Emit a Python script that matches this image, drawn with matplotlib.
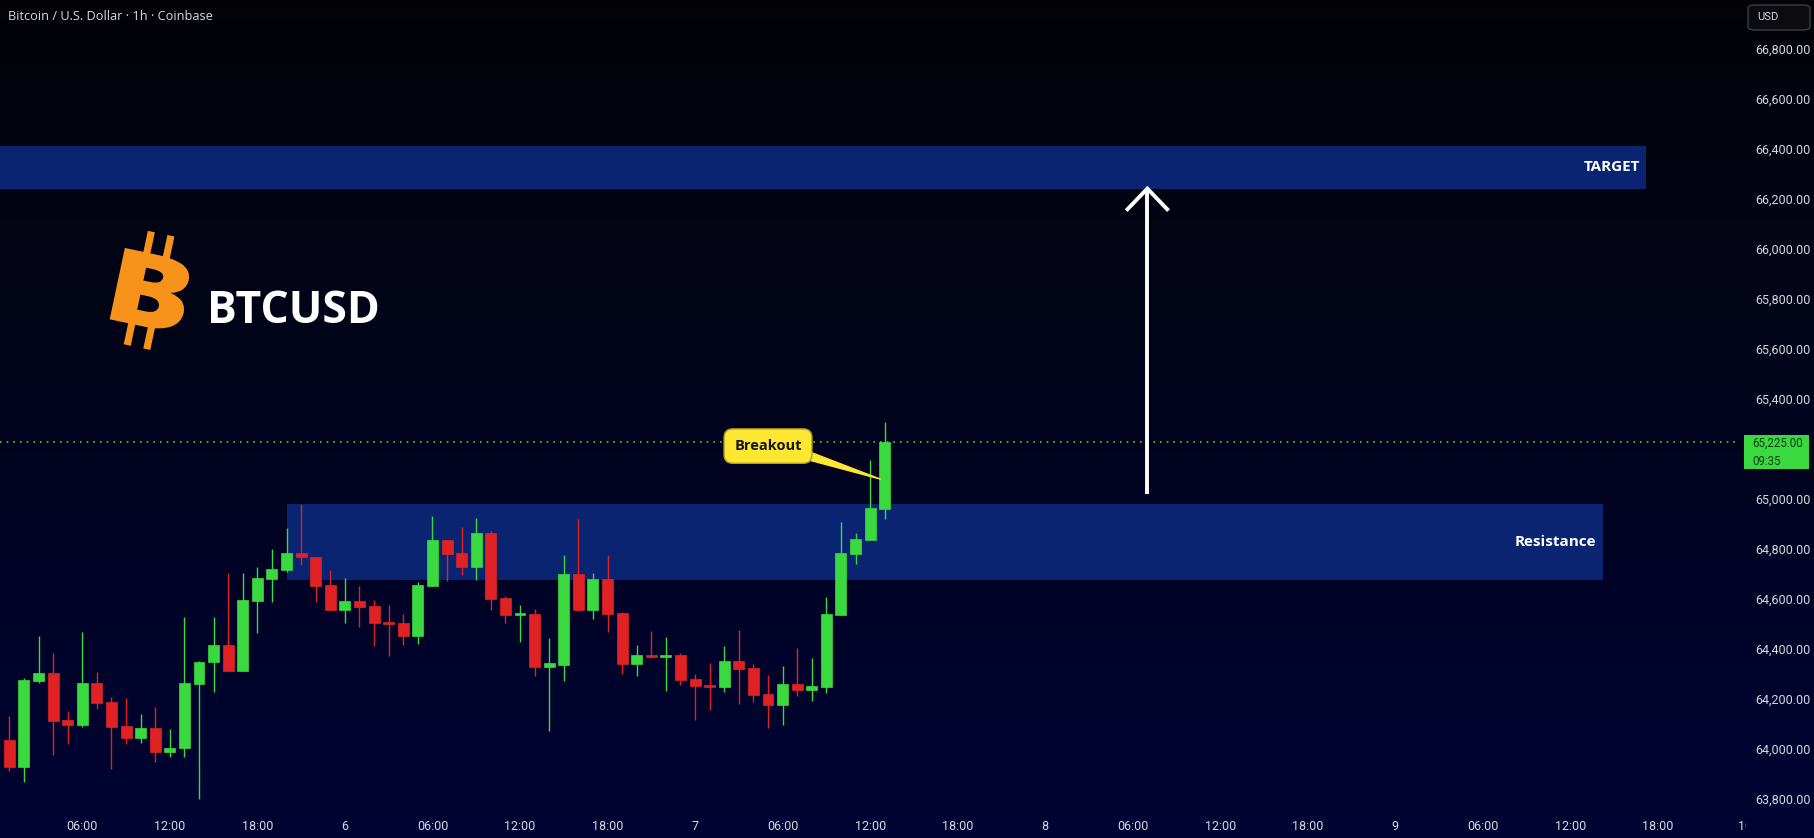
import numpy as np
import matplotlib
matplotlib.use("Agg")
import matplotlib.pyplot as plt
from matplotlib.patches import Rectangle, PathPatch, FancyBboxPatch
from matplotlib.colors import LinearSegmentedColormap
from matplotlib.textpath import TextPath
from matplotlib.font_manager import FontProperties
from matplotlib.transforms import Affine2D, blended_transform_factory

plt.rcParams['font.family'] = ['Roboto', 'DejaVu Sans']

# hourly candles, x = hours since day 5 00:00
hours = list(range(1, 62))
opens = [64034, 63928, 64270, 64302, 64114, 64096, 64262, 64186, 64090, 64044,
         64082, 63988, 64002, 64260, 64346, 64414, 64312, 64592, 64680, 64716,
         64782, 64766, 64654, 64556, 64590, 64570, 64505, 64501, 64452, 64652,
         64834, 64782, 64728, 64862, 64602, 64536, 64538, 64328, 64336, 64698,
         64556, 64678, 64542, 64340, 64372, 64368, 64374, 64278, 64253, 64248,
         64350, 64322, 64218, 64176, 64258, 64236, 64248, 64536, 64780, 64836,
         64960]
highs = [64130, 64282, 64450, 64382, 64150, 64466, 64306, 64206, 64202, 64138,
         64166, 64078, 64526, 64350, 64526, 64702, 64702, 64726, 64798, 64882,
         64978, 64766, 64714, 64682, 64650, 64594, 64574, 64538, 64666, 64930,
         64834, 64886, 64922, 64870, 64610, 64574, 64558, 64442, 64774, 64918,
         64702, 64774, 64546, 64414, 64470, 64446, 64382, 64298, 64342, 64410,
         64474, 64338, 64294, 64330, 64402, 64362, 64606, 64906, 64862, 65154,
         65306]
lows = [63912, 63866, 64264, 63974, 64018, 64088, 64160, 63920, 64020, 64024,
        63948, 63968, 63968, 63800, 64228, 64312, 64312, 64464, 64588, 64708,
        64734, 64588, 64556, 64504, 64488, 64412, 64372, 64416, 64420, 64652,
        64672, 64696, 64676, 64556, 64504, 64428, 64292, 64072, 64272, 64552,
        64520, 64468, 64300, 64292, 64364, 64232, 64256, 64116, 64156, 64228,
        64180, 64188, 64084, 64096, 64212, 64192, 64224, 64536, 64740, 64834,
        64920]
closes = [63928, 64274, 64302, 64112, 64096, 64262, 64184, 64088, 64044, 64082,
          63988, 64002, 64262, 64346, 64414, 64312, 64594, 64682, 64718, 64782,
          64768, 64652, 64556, 64590, 64568, 64504, 64500, 64452, 64654, 64834,
          64780, 64728, 64862, 64600, 64536, 64540, 64328, 64342, 64698, 64556,
          64678, 64540, 64340, 64374, 64368, 64372, 64276, 64252, 64249, 64350,
          64320, 64216, 64176, 64258, 64236, 64250, 64538, 64782, 64838, 64962,
          65225]

last_price = 65225
countdown = "09:35"
resistance = (64675, 64980)
resistance_span = (20, 110.2)
target = (66240, 66410)
target_span = (-1, 113.2)
arrow_x = 79
arrow_from = 65020
breakout_box = (53.0, 65210)
breakout_tip = (60.7, 65078)

# 65,200 sits under the last-price label, so the scale skips it
price_ticks = [p for p in range(63800, 66801, 200) if p != 65200]
time_ticks = list(range(6, 121, 6))
time_labels = [str(5 + h // 24) if h % 24 == 0 else f"{h % 24:02d}:00" for h in time_ticks]

UP = '#3ad940'
DOWN = '#e02224'
ZONE = '#0a2472'
ORANGE = '#f7931a'
TXT = '#d6d9e0'
TOP_BG = (0.012, 0.012, 0.03)
BOT_BG = (0.0, 0.016, 0.2)

W, H = 1815, 838
XMAX = 119.62
fig = plt.figure(figsize=(W / 100, H / 100), dpi=100)

# gradient background
bg = fig.add_axes([0, 0, 1, 1], zorder=-10)
cmap = LinearSegmentedColormap.from_list('bg', [TOP_BG, BOT_BG])
bg.imshow(np.linspace(0, 1, 256).reshape(-1, 1), aspect='auto', cmap=cmap,
          extent=[0, 1, 0, 1], origin='upper')
bg.axis('off')

ax = fig.add_axes([0, 28 / H, 1740 / W, 810 / H])
ax.set_facecolor('none')
ax.set_xlim(0.3605, XMAX)
ax.set_ylim(63754.4, 66994.4)

# zones
ax.add_patch(Rectangle((resistance_span[0], resistance[0]), resistance_span[1] - resistance_span[0],
                       resistance[1] - resistance[0], fc=ZONE, ec='none', zorder=1))
ax.add_patch(Rectangle((target_span[0], target[0]), target_span[1] - target_span[0],
                       target[1] - target[0], fc=ZONE, ec='none', zorder=1))
ax.text(resistance_span[1] - 0.45, sum(resistance) / 2, "Resistance", ha='right', va='center',
        color='white', fontsize=11, fontweight='bold', family='Open Sans', zorder=2)
ax.text(target_span[1] - 0.45, sum(target) / 2, "TARGET", ha='right', va='center',
        color='white', fontsize=11, fontweight='bold', family='Open Sans', zorder=2)

# candles
o = np.array(opens, float)
c = np.array(closes, float)
colors = [UP if cc >= oo else DOWN for oo, cc in zip(o, c)]
body_h = np.maximum(np.abs(c - o), 8)
body_lo = (o + c) / 2 - body_h / 2
ax.vlines(hours, lows, highs, colors=colors, lw=1.0, zorder=3)
ax.bar(hours, body_h, bottom=body_lo, width=0.75, color=colors, edgecolor=colors,
       linewidth=0.5, zorder=4)

# last price line + label
ax.axhline(last_price, color=UP, lw=1.2, ls=(0, (1, 3)), zorder=2.5)
trans = blended_transform_factory(ax.transAxes, ax.transData)
ax.add_patch(Rectangle((1.0023, last_price - 107), 0.0374, 136, transform=trans,
                       fc=UP, ec='none', clip_on=False, zorder=5))
ax.text(1.007, last_price - 4, f"{last_price:,.2f}", transform=trans, ha='left', va='center',
        fontsize=8.3, color='#0d3d10', clip_on=False, zorder=6)
ax.text(1.007, last_price - 76, countdown, transform=trans, ha='left', va='center',
        fontsize=8.3, color='#0d3d10', clip_on=False, zorder=6)

# arrow to target
ax.plot([arrow_x, arrow_x], [arrow_from, target[0]], color='white', lw=2.8,
        solid_capstyle='butt', zorder=5)
ax.plot([arrow_x - 1.45, arrow_x, arrow_x + 1.45], [target[0] - 88, target[0], target[0] - 88],
        color='white', lw=2.8, solid_capstyle='butt', solid_joinstyle='miter', zorder=5)

# breakout callout
ax.annotate("Breakout", xy=breakout_tip, xytext=breakout_box, ha='center', va='center',
            fontsize=10.5, fontweight='bold', family='Open Sans', color='#141414',
            bbox=dict(boxstyle='round,pad=0.7,rounding_size=0.6', fc='#fde731', ec='#b39d22', lw=1),
            arrowprops=dict(arrowstyle='wedge,tail_width=0.6,shrink_factor=0.5', fc='#fde731',
                            ec='#fde731', relpos=(0.85, 0.2), patchA=None, shrinkA=0, shrinkB=0,
                            mutation_scale=12),
            zorder=7)

# axes
ax.yaxis.tick_right()
ax.set_yticks(price_ticks)
ax.set_yticklabels([f"{p:,.2f}" for p in price_ticks])
ax.tick_params(axis='y', length=0, pad=11, labelsize=9, labelcolor=TXT)
shown = [h <= XMAX for h in time_ticks]
ax.set_xticks([h for h, s in zip(time_ticks, shown) if s])
ax.set_xticklabels([l for l, s in zip(time_labels, shown) if s])
ax.tick_params(axis='x', length=0, pad=7, labelsize=9, labelcolor=TXT)
# the last day label sits under the price scale edge
for h, l, s in zip(time_ticks, time_labels, shown):
    if not s:
        ax.annotate(l, xy=(h, 0), xycoords=('data', 'axes fraction'), xytext=(0, -7),
                    textcoords='offset points', ha='center', va='top', fontsize=9,
                    color=TXT, annotation_clip=False)
for s in ax.spines.values():
    s.set_visible(False)

# price scale panel clips the last time label
fig.add_artist(Rectangle((1746 / W, 0), 1 - 1746 / W, 27 / H, transform=fig.transFigure,
                         fc=BOT_BG, ec='none', zorder=10))

# header
fig.text(8 / W, 1 - 16 / H, "Bitcoin / U.S. Dollar · 1h · Coinbase", fontsize=9.2, color=TXT,
         va='center', ha='left', family=['Open Sans', 'DejaVu Sans'])
fig.add_artist(FancyBboxPatch((1748 / W, 1 - 30 / H), 62 / W, 25 / H,
                              boxstyle='round,pad=0,rounding_size=0.004', transform=fig.transFigure,
                              fc='#0c0c10', ec='#3a3d48', lw=1))
fig.text(1757 / W, 1 - 17.5 / H, "USD", fontsize=8, color=TXT, va='center', ha='left')

# bitcoin logo
fp = FontProperties(family='Open Sans', weight='heavy')
tp = TextPath((0, 0), "B", size=100, prop=fp)
ext = tp.get_extents()
local = Affine2D().translate(-(ext.x0 + ext.x1) / 2, -(ext.y0 + ext.y1) / 2) \
    .scale(71 / ext.width, 73 / ext.height)
place = Affine2D().rotate_deg(-12).translate(152, H - 291)
fig.add_artist(PathPatch(local.transform_path(tp), transform=place, fc=ORANGE, ec='none'))
for u in (-13, 7):
    for v0 in (33, -58):
        fig.add_artist(Rectangle((u - 3.6, v0), 7.2, 25, transform=place, fc=ORANGE, ec='none'))
fig.text(207 / W, 1 - 323 / H, "BTCUSD", fontsize=32, fontweight='bold', family='Open Sans',
         color='white', va='baseline', ha='left')

fig.savefig('out.png', dpi=100)
